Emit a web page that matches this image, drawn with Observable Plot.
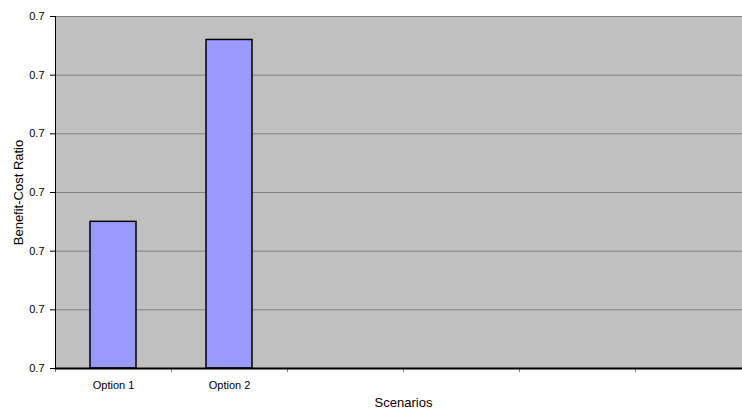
<!DOCTYPE html>
<html>
<head>
<meta charset="utf-8">
<script src="https://cdn.jsdelivr.net/npm/d3@7"></script>
<script src="https://cdn.jsdelivr.net/npm/@observablehq/plot@0.6"></script>
<style>
  html, body { margin: 0; padding: 0; background: #ffffff; }
  #chart svg { display: block; }
</style>
</head>
<body>
<div id="chart"></div>
<script>
// Scenario categories (six slots on the axis, only two carry data)
const categories = ["Option 1", "Option 2", " ", "  ", "   ", "    "];
const scenarios = ["Option 1", "Option 2"];
const ratios = [0.7050, 0.7112];
const yTicks = [0.700, 0.702, 0.704, 0.706, 0.708, 0.710, 0.712];

const data = scenarios.map((s, i) => ({scenario: s, ratio: ratios[i]}));
const font = "'Liberation Sans', Arial, sans-serif";

const chart = Plot.plot({
  width: 742,
  height: 414,
  marginLeft: 55,
  marginRight: -9,
  marginTop: 16,
  marginBottom: 46,
  style: {fontFamily: font, fontSize: "11px", color: "#000", background: "#fff"},
  x: {domain: categories, paddingInner: 0.6, paddingOuter: 0.3, align: 0.5},
  y: {domain: [0.700, 0.712]},
  marks: [
    Plot.frame({fill: "#c0c0c0", stroke: "none"}),
    Plot.gridY(yTicks, {stroke: "#808080", strokeOpacity: 1, strokeWidth: 1}),
    Plot.barY(data, {x: "scenario", y1: 0.700, y2: "ratio", fill: "#9999ff", stroke: "#000", strokeWidth: 1.5}),
    // left axis line and ticks
    Plot.axisY({
      ticks: yTicks,
      tickFormat: d3.format(".1f"),
      tickSize: 5,
      tickPadding: 6,
      stroke: "#000",
      fontSize: 11,
      label: "Benefit-Cost Ratio",
      labelAnchor: "center",
      labelArrow: "none",
      labelOffset: 42
    }),
    Plot.frame({anchor: "left", stroke: "#000"}),
    // category boundary ticks
    Plot.axisX({tickSize: 4, dx: -58, tickFormat: () => "", stroke: "#808080", label: null}),
    // category labels and axis title
    Plot.axisX({
      tickSize: 0,
      tickPadding: 13,
      fontSize: 11,
      label: "Scenarios",
      labelAnchor: "center",
      labelArrow: "none",
      labelOffset: 38
    }),
    Plot.ruleY([0.700], {stroke: "#000", strokeWidth: 2})
  ]
});

chart.querySelectorAll("[aria-label='y-axis label'] text, [aria-label='x-axis label'] text").forEach(t => {
  t.style.fontSize = "13px";
});

document.getElementById("chart").appendChild(chart);
</script>
</body>
</html>
